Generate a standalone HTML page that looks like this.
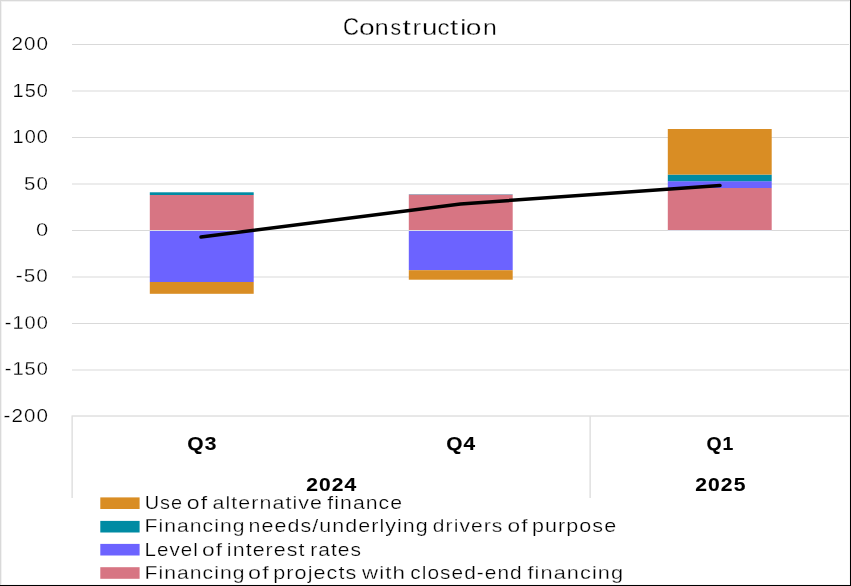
<!DOCTYPE html>
<html><head><meta charset="utf-8"><style>
html,body{margin:0;padding:0;background:#fff;overflow:hidden}
svg{display:block;will-change:transform}
text{font-family:"Liberation Sans",sans-serif;fill:#000;stroke:#fff;stroke-width:0.25px;paint-order:fill}
text.t{stroke-width:0.3px}
text.b{stroke:#000;stroke-width:0.12px}
</style></head><body>
<svg width="851" height="586" viewBox="0 0 851 586">
<rect x="0" y="0" width="851" height="586" fill="#fff"/>
<rect x="0" y="0" width="851" height="1" fill="#d9d9d9"/>
<rect x="1" y="1" width="849" height="1" fill="#f2f2f2"/>
<rect x="0" y="0" width="1" height="586" fill="#d9d9d9"/>
<rect x="1" y="1" width="1" height="584" fill="#f2f2f2"/>
<rect x="849" y="1" width="1" height="584" fill="#f7f7f7"/>
<rect x="1" y="584" width="849" height="1" fill="#f7f7f7"/>
<rect x="850" y="0" width="1" height="586" fill="#000"/>
<rect x="0" y="585" width="851" height="1" fill="#000"/>
<line x1="72" x2="849" y1="44.5" y2="44.5" stroke="#d9d9d9" stroke-width="1"/>
<line x1="72" x2="849" y1="91.0" y2="91.0" stroke="#d9d9d9" stroke-width="1"/>
<line x1="72" x2="849" y1="137.5" y2="137.5" stroke="#d9d9d9" stroke-width="1"/>
<line x1="72" x2="849" y1="184.0" y2="184.0" stroke="#d9d9d9" stroke-width="1"/>
<line x1="72" x2="849" y1="230.5" y2="230.5" stroke="#d9d9d9" stroke-width="1"/>
<line x1="72" x2="849" y1="277.0" y2="277.0" stroke="#d9d9d9" stroke-width="1"/>
<line x1="72" x2="849" y1="323.5" y2="323.5" stroke="#d9d9d9" stroke-width="1"/>
<line x1="72" x2="849" y1="370.0" y2="370.0" stroke="#d9d9d9" stroke-width="1"/>
<line x1="71.5" x2="849" y1="416.0" y2="416.0" stroke="#d0d0d0" stroke-width="1"/>
<line x1="72.1" x2="72.1" y1="416.5" y2="498" stroke="#d0d0d0" stroke-width="1"/>
<line x1="590.1" x2="590.1" y1="416.5" y2="498" stroke="#d0d0d0" stroke-width="1"/>
<rect x="149.8" y="195.0" width="103.9" height="35.00" fill="#d77583"/>
<rect x="149.8" y="192.3" width="103.9" height="2.70" fill="#008ba3"/>
<rect x="149.8" y="231" width="103.9" height="51.00" fill="#6c63ff"/>
<rect x="149.8" y="282.0" width="103.9" height="11.80" fill="#d98d24"/>
<rect x="408.8" y="195.0" width="103.9" height="35.00" fill="#d77583"/>
<rect x="408.8" y="194.0" width="103.9" height="1.00" fill="#a9abbd"/>
<rect x="408.8" y="231" width="103.9" height="39.20" fill="#6c63ff"/>
<rect x="408.8" y="270.2" width="103.9" height="9.50" fill="#d98d24"/>
<rect x="667.8" y="188.0" width="103.9" height="42.00" fill="#d77583"/>
<rect x="667.8" y="181.2" width="103.9" height="6.80" fill="#6c63ff"/>
<rect x="667.8" y="174.6" width="103.9" height="6.60" fill="#008ba3"/>
<rect x="667.8" y="129.0" width="103.9" height="45.60" fill="#d98d24"/>
<rect x="149.8" y="230" width="103.9" height="1" fill="#dcdce6"/>
<rect x="408.8" y="230" width="103.9" height="1" fill="#dcdce6"/>
<rect x="667.8" y="230" width="103.9" height="1" fill="#dcdce6"/>
<polyline points="201.0,237.1 460.5,204.0 720.0,185.4" fill="none" stroke="#000" stroke-width="3.5" stroke-linecap="round" stroke-linejoin="round"/>
<text transform="translate(11.46,49.90) scale(1.1499,1)" font-size="18" letter-spacing="0.900">200</text>
<text transform="translate(12.56,96.90) scale(1.1080,1)" font-size="18" letter-spacing="0.900">150</text>
<text transform="translate(12.56,142.90) scale(1.1080,1)" font-size="18" letter-spacing="0.900">100</text>
<text transform="translate(23.98,189.90) scale(1.1406,1)" font-size="18" letter-spacing="0.900">50</text>
<text transform="translate(35.91,235.90) scale(1.2160,1)" font-size="18">0</text>
<text transform="translate(15.78,281.90) scale(1.1529,1)" font-size="18" letter-spacing="0.900">-50</text>
<text transform="translate(4.71,328.90) scale(1.1134,1)" font-size="18" letter-spacing="0.900">-100</text>
<text transform="translate(4.71,374.90) scale(1.1134,1)" font-size="18" letter-spacing="0.900">-150</text>
<text transform="translate(3.58,421.90) scale(1.1457,1)" font-size="18" letter-spacing="0.900">-200</text>
<text transform="translate(187.31,449.50) scale(1.1668,1)" font-size="18" font-weight="bold" class="b" letter-spacing="0.900">Q3</text>
<text transform="translate(446.31,449.60) scale(1.1605,1)" font-size="18" font-weight="bold" class="b" letter-spacing="0.900">Q4</text>
<text transform="translate(706.48,449.60) scale(1.0786,1)" font-size="18" font-weight="bold" class="b" letter-spacing="0.900">Q1</text>
<text transform="translate(306.27,490.60) scale(1.1649,1)" font-size="18" font-weight="bold" class="b" letter-spacing="0.900">2024</text>
<text transform="translate(695.26,490.70) scale(1.1723,1)" font-size="18" font-weight="bold" class="b" letter-spacing="0.900">2025</text>
<text transform="translate(144.75,508.90) scale(1.1061,1)" font-size="18" letter-spacing="0.900">Use</text>
<text transform="translate(186.86,508.90) scale(1.2831,1)" font-size="18" letter-spacing="0.900">of</text>
<text transform="translate(212.52,508.90) scale(1.1900,1)" font-size="18" letter-spacing="0.900">alternative</text>
<text transform="translate(327.29,508.90) scale(1.1800,1)" font-size="18" letter-spacing="0.900">finance</text>
<text transform="translate(144.55,531.90) scale(1.1722,1)" font-size="18" letter-spacing="0.900">Financing</text>
<text transform="translate(248.51,531.90) scale(1.1909,1)" font-size="18" letter-spacing="0.900">needs/underlying</text>
<text transform="translate(432.87,531.90) scale(1.1680,1)" font-size="18" letter-spacing="0.900">drivers</text>
<text transform="translate(507.57,531.90) scale(1.2633,1)" font-size="18" letter-spacing="0.900">of</text>
<text transform="translate(531.95,531.90) scale(1.1955,1)" font-size="18" letter-spacing="0.900">purpose</text>
<text transform="translate(144.59,555.50) scale(1.1418,1)" font-size="18" letter-spacing="0.900">Level</text>
<text transform="translate(201.97,555.50) scale(1.2633,1)" font-size="18" letter-spacing="0.900">of</text>
<text transform="translate(226.85,555.50) scale(1.1891,1)" font-size="18" letter-spacing="0.900">interest</text>
<text transform="translate(310.26,555.50) scale(1.1649,1)" font-size="18" letter-spacing="0.900">rates</text>
<text transform="translate(144.55,578.90) scale(1.1722,1)" font-size="18" letter-spacing="0.900">Financing</text>
<text transform="translate(247.94,578.90) scale(1.3000,1)" font-size="18" letter-spacing="1.011">of</text>
<text transform="translate(273.24,578.90) scale(1.1995,1)" font-size="18" letter-spacing="0.900">projects</text>
<text transform="translate(361.97,578.90) scale(1.2389,1)" font-size="18" letter-spacing="0.900">with</text>
<text transform="translate(410.35,578.90) scale(1.1588,1)" font-size="18" letter-spacing="0.900">closed-end</text>
<text transform="translate(527.48,578.90) scale(1.2069,1)" font-size="18" letter-spacing="0.900">financing</text>
<text transform="translate(343.00,34.6) scale(1.0126,1.05)" font-size="22" class="t">C</text>
<text transform="translate(358.96,34.6) scale(1.2833,1)" font-size="22" class="t">o</text>
<text transform="translate(374.44,34.6) scale(1.1635,1)" font-size="22" class="t">n</text>
<text transform="translate(390.39,34.6) scale(0.9655,1)" font-size="22" class="t">s</text>
<text transform="translate(402.60,34.6) scale(1.3500,1)" font-size="22" class="t">t</text>
<text transform="translate(412.44,34.6) scale(1.1716,1)" font-size="22" class="t">r</text>
<text transform="translate(421.89,34.6) scale(1.2610,1)" font-size="22" class="t">u</text>
<text transform="translate(437.52,34.6) scale(1.0888,1)" font-size="22" class="t">c</text>
<text transform="translate(450.00,34.6) scale(1.3500,1)" font-size="22" class="t">t</text>
<text transform="translate(460.11,34.6) scale(1.3500,1)" font-size="22" class="t">i</text>
<text transform="translate(465.86,34.6) scale(1.2833,1)" font-size="22" class="t">o</text>
<text transform="translate(482.89,34.6) scale(1.1312,1)" font-size="22" class="t">n</text>
<rect x="100.3" y="497.4" width="39.3" height="11.6" fill="#d98d24"/>
<rect x="100.3" y="520.9" width="39.3" height="11.6" fill="#008ba3"/>
<rect x="100.3" y="543.9" width="39.3" height="11.6" fill="#6c63ff"/>
<rect x="100.3" y="567.2" width="39.3" height="11.6" fill="#d77583"/>
</svg>
</body></html>
